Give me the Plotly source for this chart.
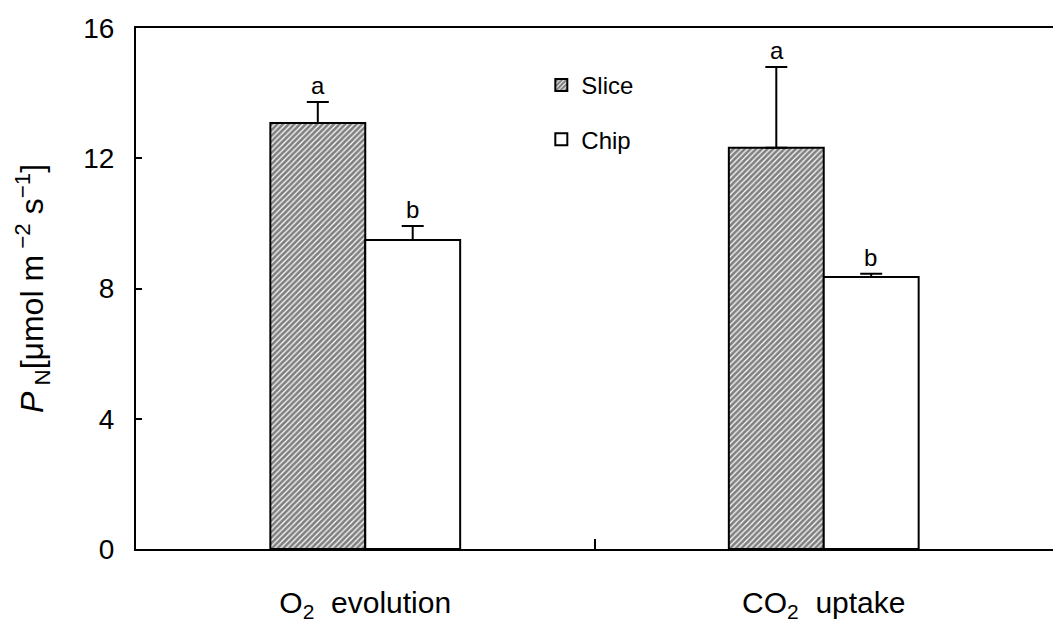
import plotly.graph_objects as go

categories = ["O<sub>2</sub>  evolution", "CO<sub>2</sub>  uptake"]
slice_vals = [13.08, 12.32]
slice_err = [0.65, 2.48]
chip_vals = [9.49, 8.35]
chip_err = [0.43, 0.10]
slice_letters = ["a", "a"]
chip_letters = ["b", "b"]
y_ticks = [0, 4, 8, 12, 16]

FONT = "Arial, 'Liberation Sans', sans-serif"

fig = go.Figure()
fig.add_trace(go.Bar(
    name="Slice", x=categories, y=slice_vals, legendgroup="s",
    marker=dict(color="white", line=dict(color="black", width=2),
                pattern=dict(shape="/", fgcolor="black", bgcolor="white",
                             size=4, solidity=0.7)),
    error_y=dict(type="data", symmetric=False, array=slice_err,
                 arrayminus=[0, 0], color="black", thickness=2, width=11),
))
fig.add_trace(go.Bar(
    name="Chip", x=categories, y=chip_vals, legendgroup="c",
    marker=dict(color="white", line=dict(color="black", width=2)),
    error_y=dict(type="data", symmetric=False, array=chip_err,
                 arrayminus=[0, 0], color="black", thickness=2, width=11),
))

# significance letters above the error bars
for i, cat in enumerate(categories):
    fig.add_annotation(x=cat, y=slice_vals[i] + slice_err[i], text=slice_letters[i],
                       xshift=-47, yshift=1, yanchor="bottom", showarrow=False,
                       font=dict(size=24, color="black", family=FONT))
    fig.add_annotation(x=cat, y=chip_vals[i] + chip_err[i], text=chip_letters[i],
                       xshift=47, yshift=1, yanchor="bottom", showarrow=False,
                       font=dict(size=24, color="black", family=FONT))

fig.update_layout(
    width=1053, height=624,
    margin=dict(l=136, r=0, t=28, b=75),
    paper_bgcolor="white", plot_bgcolor="white",
    barmode="group", bargap=0.586, bargroupgap=0,
    font=dict(family=FONT, color="black"),
    legend=dict(x=0.442, y=0.933, xanchor="left", yanchor="top",
                bgcolor="rgba(0,0,0,0)", font=dict(size=24, family=FONT),
                tracegroupgap=20, itemwidth=30),
    xaxis=dict(
        type="category", tickson="boundaries", ticks="inside", ticklen=10,
        tickwidth=2, tickcolor="black", showline=True, linecolor="black",
        linewidth=2, mirror=True, showgrid=False, zeroline=False,
        tickfont=dict(size=30, family=FONT), ticklabelstandoff=26,
        range=[-0.5, 1.5],
    ),
    yaxis=dict(
        range=[0, 16], tickvals=y_ticks, ticks="inside", ticklen=6,
        tickwidth=2, tickcolor="black", showline=True, linecolor="black",
        linewidth=2, showgrid=False, zeroline=False,
        tickfont=dict(size=28, family=FONT), ticklabelstandoff=14,
        title=dict(text="<i>P</i><sub> N</sub>[μmol m<sup> −2</sup> s<sup>−1</sup>]",
                   font=dict(size=32, family=FONT), standoff=30),
    ),
)

fig.write_html("out.html")
